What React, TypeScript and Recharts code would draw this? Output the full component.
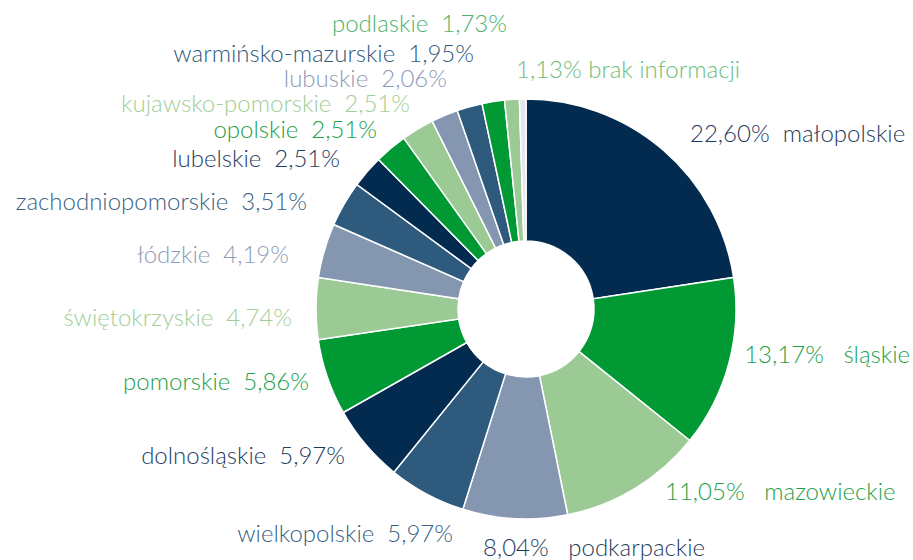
import { Cell, Pie, PieChart } from "recharts";

const regions = [
  "małopolskie",
  "śląskie",
  "mazowieckie",
  "podkarpackie",
  "wielkopolskie",
  "dolnośląskie",
  "pomorskie",
  "świętokrzyskie",
  "łódzkie",
  "zachodniopomorskie",
  "lubelskie",
  "opolskie",
  "kujawsko-pomorskie",
  "lubuskie",
  "warmińsko-mazurskie",
  "podlaskie",
  "brak informacji",
  "",
];

const shares = [22.6, 13.17, 11.05, 8.04, 5.97, 5.97, 5.86, 4.74, 4.19, 3.51, 2.51, 2.51, 2.51, 2.06, 1.95, 1.73, 1.13, 0.5];

const NAVY = "#032b4f";
const GREEN = "#009933";
const LIGHT = "#9bca95";
const GREY = "#8596b1";
const STEEL = "#2e5a7d";
const PALE = "#e2e7ee";

const sliceColors = [NAVY, GREEN, LIGHT, GREY, STEEL, NAVY, GREEN, LIGHT, GREY, STEEL, NAVY, GREEN, LIGHT, GREY, STEEL, GREEN, LIGHT, PALE];
const textColors = [
  "#1f3d60", "#1e9f4a", "#1e9f4a", "#1f3d60", "#3a5f82", "#1f3d60", "#1e9f4a", "#9fcf98", "#8d9cb6",
  "#3a5f82", "#1f3d60", "#1e9f4a", "#9fcf98", "#8d9cb6", "#2e5a7d", "#4cb36a", "#6dbd78", "#fff",
];

// where each label sits: anchor point, which end is anchored, name before/after number, spaces between
const labelPlace: { x: number; y: number; anchor: "start" | "end"; numFirst: boolean; gap: number }[] = [
  { x: 690, y: 142, anchor: "start", numFirst: true, gap: 2 },
  { x: 910, y: 363, anchor: "end", numFirst: true, gap: 3 },
  { x: 665, y: 500, anchor: "start", numFirst: true, gap: 3 },
  { x: 483, y: 556, anchor: "start", numFirst: true, gap: 3 },
  { x: 453, y: 542, anchor: "end", numFirst: false, gap: 2 },
  { x: 345, y: 464, anchor: "end", numFirst: false, gap: 2 },
  { x: 309, y: 390, anchor: "end", numFirst: false, gap: 2 },
  { x: 292, y: 326, anchor: "end", numFirst: false, gap: 2 },
  { x: 289, y: 263, anchor: "end", numFirst: false, gap: 2 },
  { x: 307, y: 210, anchor: "end", numFirst: false, gap: 2 },
  { x: 340, y: 167, anchor: "end", numFirst: false, gap: 2 },
  { x: 377, y: 138, anchor: "end", numFirst: false, gap: 2 },
  { x: 410, y: 112, anchor: "end", numFirst: false, gap: 2 },
  { x: 447, y: 87, anchor: "end", numFirst: false, gap: 2 },
  { x: 474, y: 62, anchor: "end", numFirst: false, gap: 2 },
  { x: 507, y: 32, anchor: "end", numFirst: false, gap: 2 },
  { x: 516, y: 78, anchor: "start", numFirst: true, gap: 1 },
  { x: 0, y: 0, anchor: "start", numFirst: true, gap: 1 },
];

const data = regions.map((name, i) => ({ name, value: shares[i] }));

function pct(v: number) {
  return v.toFixed(2).replace(".", ",") + "%";
}

function renderLabel(props: any) {
  const i = props.index;
  if (!regions[i]) return null;
  const p = labelPlace[i];
  const gap = " ".repeat(p.gap);
  const text = p.numFirst ? `${pct(shares[i])}${gap}${regions[i]}` : `${regions[i]}${gap}${pct(shares[i])}`;
  return (
    <text
      x={p.x}
      y={p.y}
      textAnchor={p.anchor}
      fill={textColors[i]}
      fontSize={24}
      fontFamily="Lato"
      fontWeight={300}
      style={{ whiteSpace: "pre" }}
    >
      {text}
    </text>
  );
}

export default function App() {
  return (
    <div style={{ position: "absolute", left: 0, top: 0, background: "#fff" }}>
      <PieChart width={913} height={560} margin={{ top: 0, right: 0, bottom: 0, left: 0 }}>
        <Pie
          data={data}
          dataKey="value"
          nameKey="name"
          cx={526}
          cy={309}
          innerRadius={68}
          outerRadius={210}
          startAngle={90}
          endAngle={-270}
          stroke="#ffffff"
          strokeWidth={1.5}
          label={renderLabel}
          labelLine={false}
          isAnimationActive={false}
        >
          {data.map((d, i) => (
            <Cell key={d.name + i} fill={sliceColors[i]} />
          ))}
        </Pie>
      </PieChart>
    </div>
  );
}
